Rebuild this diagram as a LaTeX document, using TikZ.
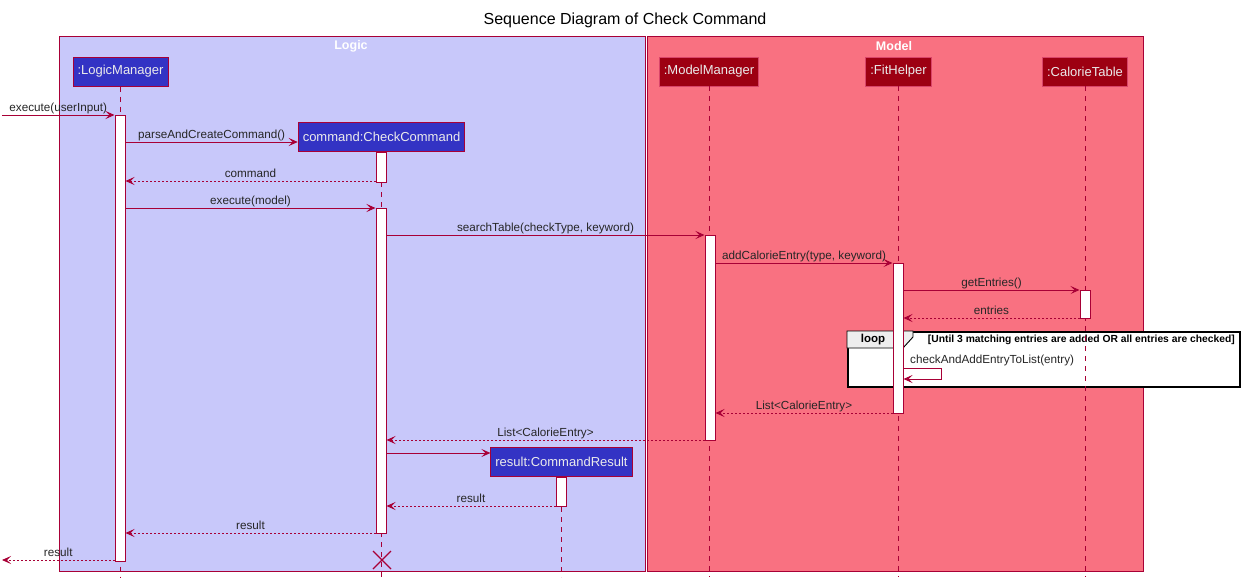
\documentclass[tikz,border=0pt]{standalone}
\usepackage{fontspec}
\setmainfont{Liberation Sans}
\usetikzlibrary{arrows.meta,calc}
\definecolor{edge}{HTML}{A80036}
\definecolor{logicbg}{HTML}{C8C8FA}
\definecolor{modelbg}{HTML}{F97181}
\definecolor{logicfg}{HTML}{3333C4}
\definecolor{modelfg}{HTML}{9D0012}
\definecolor{modeledge}{HTML}{D9456A}
\definecolor{tabgray}{HTML}{EEEEEE}

\begin{document}
\begin{tikzpicture}[x=1pt,y=-1pt,
  group/.style={draw=edge, line width=0.9pt},
  grouptitle/.style={text=white, font=\bfseries\fontsize{12.5}{14}\selectfont},
  plogic/.style={draw=edge, line width=1pt, fill=logicfg, text=white!92!black,
    font=\fontsize{13}{15}\selectfont, minimum height=29pt, inner xsep=4.5pt},
  pmodel/.style={draw=modeledge, line width=0.8pt, fill=modelfg, text=white!92!black,
    font=\fontsize{13}{15}\selectfont, minimum height=29pt, inner xsep=4.5pt},
  life/.style={draw=edge, line width=0.8pt, dash pattern=on 5pt off 5pt},
  act/.style={draw=edge, fill=white, line width=1pt, minimum width=10pt,
    inner sep=0pt, anchor=north},
  msg/.style={draw=edge, line width=0.9pt,
    -{Stealth[length=9pt,width=8pt,inset=4pt]}},
  ret/.style={msg, dash pattern=on 2pt off 2pt},
  lab/.style={font=\fontsize{11.7}{13}\selectfont, text=black!85,
    inner sep=0pt, anchor=base, yshift=4pt},
]
\useasboundingbox (0,0) rectangle (1248,587);

% title
\node[font=\fontsize{16}{18}\selectfont] (title) at (625,20) {Sequence Diagram of Check Command};

% package boxes
\filldraw[group, fill=logicbg] (59,36) rectangle (645,571);
\filldraw[group, fill=modelbg] (647,36) rectangle (1143,571);
\node[grouptitle] (logictitle) at (351,46) {Logic};
\node[grouptitle] (modeltitle) at (894,46) {Model};

% loop fragment (white frame under the lifelines)
\node[draw=black, line width=1.5pt, fill=white, minimum width=392pt,
  minimum height=55pt, inner sep=0pt, anchor=north west] (loopf) at (847,331) {};
\filldraw[fill=tabgray, draw=black, line width=0.9pt]
  (loopf.north west) -- (913,331) -- (913,337) -- (903,348) -- (loopf.north west |- 0,348) -- cycle;
\node[font=\bfseries\fontsize{11.5}{13}\selectfont, inner sep=0pt] (looplab) at (873,340) {loop};
\node[font=\bfseries\fontsize{10.3}{12}\selectfont, inner sep=0pt, anchor=east] (guard) at (1235,340)
  {[Until 3 matching entries are added OR all entries are checked]};

% participants
\node[plogic] (lm) at (120.5,71.5) {:LogicManager};
\node[plogic] (cc) at (381.5,137) {command:CheckCommand};
\node[pmodel] (mm) at (709,71.5) {:ModelManager};
\node[pmodel] (fh) at (898.5,71.5) {:FitHelper};
\node[pmodel] (ct) at (1085,71.5) {:CalorieTable};
\node[plogic] (cr) at (561.5,462) {result:CommandResult};

% lifelines
\foreach \p in {lm,cc,mm,fh,ct,cr}
  \draw[life] (\p.south) -- (\p.south |- 0,577);

% activation bars
\node[act, minimum height=446pt] (aLM) at (120,115) {};
\node[act, minimum height=30pt] (aCC1) at (381,152) {};
\node[act, minimum height=325pt] (aCC2) at (381,208) {};
\node[act, minimum height=205pt] (aMM) at (710,235) {};
\node[act, minimum height=150pt] (aFH) at (898,263) {};
\node[act, minimum height=28pt] (aCT) at (1085,290) {};
\node[act, minimum height=29pt] (aCR) at (561,477) {};

% outside caller
\coordinate (ext) at (2,0);

% messages
\draw[msg] (ext |- 0,115) -- node[lab] {execute(userInput)} (aLM.west |- 0,115);
\draw[msg] (aLM.east |- 0,142) -- node[lab] {parseAndCreateCommand()} (cc.west |- 0,142);
\draw[ret] (aCC1.west |- 0,181) -- node[lab] {command} (aLM.east |- 0,181);
\draw[msg] (aLM.east |- 0,208) -- node[lab] {execute(model)} (aCC2.west |- 0,208);
\draw[msg] (aCC2.east |- 0,235) -- node[lab] {searchTable(checkType, keyword)} (aMM.west |- 0,235);
\draw[msg] (aMM.east |- 0,263) -- node[lab] {addCalorieEntry(type, keyword)} (aFH.west |- 0,263);
\draw[msg] (aFH.east |- 0,290) -- node[lab] {getEntries()} (aCT.west |- 0,290);
\draw[ret] (aCT.west |- 0,318) -- node[lab] {entries} (aFH.east |- 0,318);

% self call inside the loop
\draw[msg] (aFH.east |- 0,368) -- (941,368) -- (941,379) -- (aFH.east |- 0,379);
\node[font=\fontsize{11.7}{13}\selectfont, text=black!85, inner sep=0pt, anchor=base west]
  (selflab) at (910,363) {checkAndAddEntryToList(entry)};

\draw[ret] (aFH.west |- 0,413) -- node[lab] {List<CalorieEntry>} (aMM.east |- 0,413);
\draw[ret] (aMM.west |- 0,440) -- node[lab] {List<CalorieEntry>} (aCC2.east |- 0,440);
\draw[msg] (aCC2.east |- 0,453) -- (cr.west |- 0,453);
\draw[ret] (aCR.west |- 0,506) -- node[lab] {result} (aCC2.east |- 0,506);
\draw[ret] (aCC2.west |- 0,533) -- node[lab] {result} (aLM.east |- 0,533);
\draw[ret] (aLM.west |- 0,560) -- node[lab] {result} (ext |- 0,560);

% destruction of the command object
\coordinate (kill) at (382,560);
\draw[edge, line width=1.3pt] ($(kill)+(-9,-9)$) -- ($(kill)+(9,9)$)
  ($(kill)+(-9,9)$) -- ($(kill)+(9,-9)$);
\end{tikzpicture}
\end{document}
